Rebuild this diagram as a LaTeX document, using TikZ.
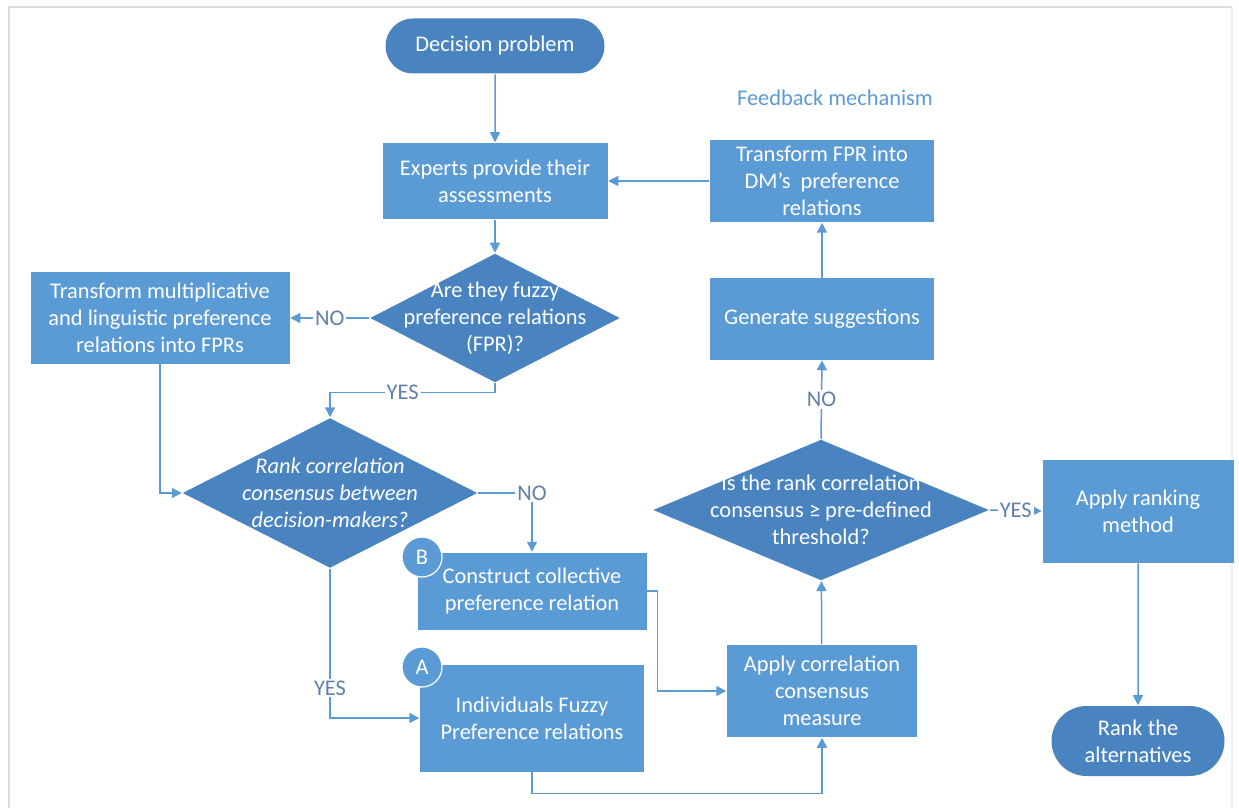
\documentclass[tikz,border=0pt]{standalone}
\usepackage{fontspec}
\setmainfont{Carlito}
\usetikzlibrary{arrows.meta,positioning,shapes.geometric,shapes.misc}
\definecolor{boxblue}{HTML}{5B9BD5}
\definecolor{deepblue}{HTML}{4A84C0}
\definecolor{wire}{HTML}{5B9BD5}
\definecolor{labgrey}{HTML}{5F80A8}
\definecolor{frame}{HTML}{DCDCDC}
\newcommand{\boxfont}{\fontsize{11.2}{13.5}\selectfont}
\tikzset{
  every picture/.style={line width=0.75pt, font=\boxfont},
  stepbox/.style={rectangle, fill=boxblue, text=white, align=center, inner sep=2pt},
  term/.style={rounded rectangle, fill=deepblue, text=white, align=center, inner sep=2pt},
  decision/.style={diamond, fill=deepblue, inner sep=0pt},
  dtext/.style={text=white, align=center, inner sep=0pt, font=\boxfont},
  tag/.style={circle, fill=boxblue, draw=white, line width=0.6pt, text=white, minimum size=20pt, inner sep=0pt},
  lab/.style={text=labgrey, fill=white, inner sep=1pt},
  flow/.style={draw=wire, -{Triangle[length=5pt, width=5pt]}},
}
\begin{document}
\begin{tikzpicture}[x=0.5pt, y=-0.5pt]
\useasboundingbox (0,0) rectangle (1239,808);
% frame
\draw[frame, line width=1pt] (9,808) -- (9,7) -- (1232,7);
\draw[frame!40, line width=1pt] (1232,7) -- (1232,808);
% left column
\node[term, minimum width=113.5pt, minimum height=27.5pt] (prob) at (495,46) {Decision problem};
\node[stepbox, minimum width=112.5pt, minimum height=38pt] (experts) at (495,181) {Experts provide their\\assessments};
\node[decision, minimum width=125pt, minimum height=64.5pt,
  label={[dtext]center:Are they fuzzy\\preference relations\\(FPR)?}] (isfpr) at (495,318) {};
\node[stepbox, minimum width=129.5pt, minimum height=45.5pt] (tmult) at (160,318) {Transform multiplicative\\and linguistic preference\\relations into FPRs};
\node[decision, minimum width=147.5pt, minimum height=75pt,
  label={[dtext, font=\boxfont\itshape]center:Rank correlation\\consensus between\\decision-makers?}] (rankcons) at (330,493) {};
\node[stepbox, minimum width=114.5pt, minimum height=38.5pt] (collect) at (532,591) {Construct collective\\preference relation};
\node[stepbox, minimum width=112pt, minimum height=53.5pt] (indiv) at (532,718) {Individuals Fuzzy\\Preference relations};
\node[tag] (tagB) at (422,557) {B};
\node[tag] (tagA) at (422,667) {A};
% right column
\node[stepbox, minimum width=95pt, minimum height=46pt] (applycorr) at (822,691) {Apply correlation\\consensus\\measure};
\node[decision, minimum width=168pt, minimum height=70.5pt,
  label={[dtext]center:Is the rank correlation\\consensus ≥ pre-defined\\threshold?}] (thresh) at (821,510) {};
\node[stepbox, minimum width=112pt, minimum height=40.5pt] (suggest) at (822,319) {Generate suggestions};
\node[stepbox, minimum width=112pt, minimum height=41pt] (tfpr) at (822,181) {Transform FPR into\\DM’s~ preference\\relations};
\node[text=boxblue] (feedback) at (835,98) {Feedback mechanism};
\node[stepbox, minimum width=95.5pt, minimum height=51.5pt] (ranking) at (1138,511) {Apply ranking\\method};
\node[term, minimum width=90.5pt, minimum height=35pt] (altern) at (1138,741) {Rank the\\alternatives};
% connectors
\draw[flow] (prob) -- (experts);
\draw[flow] (experts) -- (isfpr);
\draw[flow] (isfpr.west) -- node[lab] (no1) {NO} (tmult.east);
\draw[flow] (isfpr.south) -- ++(0,9) -| node[lab, pos=0.28] (yes1) {YES} (rankcons.north);
\draw[flow] (tmult.south) |- (rankcons.west);
\draw[flow] (rankcons.east) -| node[lab, pos=0.5] (no2) {NO} (collect.north);
\draw[flow] (rankcons.south) |- node[lab, pos=0.4] (yes2) {YES} (indiv.west);
\draw[flow] (collect.east) -- ++(10,0) |- (applycorr.west);
\draw[flow] (indiv.south) -- ++(0,21) -| (applycorr.south);
\draw[flow] (applycorr) -- (thresh);
\draw[flow] (thresh.north) -- node[lab] (no3) {NO} (suggest.south);
\draw[flow] (suggest) -- (tfpr);
\draw[flow] (tfpr) -- (experts);
\draw[flow] (thresh.east) -- node[lab] (yes3) {YES} (ranking.west);
\draw[flow] (ranking) -- (altern);
\end{tikzpicture}
\end{document}
